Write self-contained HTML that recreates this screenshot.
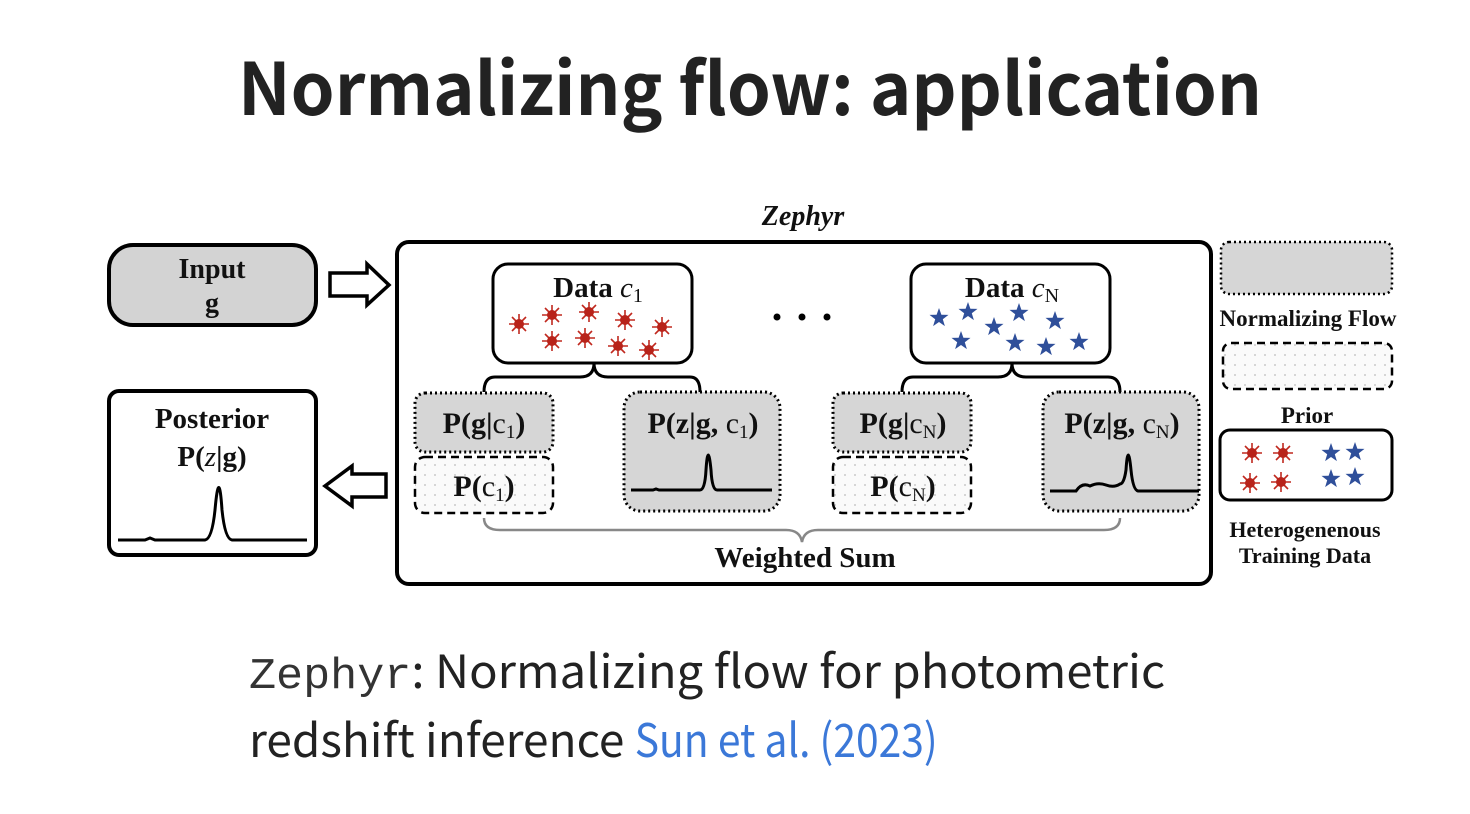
<!DOCTYPE html>
<html><head><meta charset="utf-8"><style>
html,body{margin:0;padding:0;background:#fff;width:1470px;height:814px;overflow:hidden}
svg{display:block}
.t{font-family:"Liberation Serif",serif;font-weight:bold;fill:#111}
.s{font-family:"Noto Sans CJK JP","Liberation Sans",sans-serif;fill:#222}
</style></head><body>
<svg width="1470" height="814" viewBox="0 0 1470 814" xmlns="http://www.w3.org/2000/svg">
<defs>
<pattern id="dots" width="10" height="10" patternUnits="userSpaceOnUse"><rect width="10" height="10" fill="#fafafa"/><circle cx="5" cy="5" r="0.9" fill="#bbb"/></pattern>
<g id="sun"><g stroke="#c0281e" stroke-width="1.6"><line x1="-10" y1="0" x2="10" y2="0"/><line x1="0" y1="-10" x2="0" y2="10"/><line x1="-7" y1="-7" x2="7" y2="7"/><line x1="-7" y1="7" x2="7" y2="-7"/></g><circle r="5" fill="#b8231a"/></g>
<polygon id="star" points="0,-10 2.4,-3.2 9.5,-3.1 3.8,1.2 5.9,8.1 0,4 -5.9,8.1 -3.8,1.2 -9.5,-3.1 -2.4,-3.2" fill="#2f4f9a"/>
</defs>
<text x="750" y="115" text-anchor="middle" class="s" font-size="72" font-weight="bold" textLength="1024" lengthAdjust="spacingAndGlyphs">Normalizing flow: application</text>
<text x="803" y="225" text-anchor="middle" font-family="Liberation Serif,serif" font-style="italic" font-weight="bold" font-size="28" fill="#111">Zephyr</text>

<rect x="109" y="245" width="207" height="80" rx="24" fill="#d3d3d3" stroke="#000" stroke-width="4"/>
<text x="212" y="278" text-anchor="middle" class="t" font-size="28">Input</text>
<text x="212" y="312" text-anchor="middle" class="t" font-size="28">g</text>
<polygon points="330,273 367,273 367,264 389,285 367,305 367,296 330,296" fill="#fff" stroke="#000" stroke-width="3.5"/>

<rect x="109" y="391" width="207" height="164" rx="10" fill="#fff" stroke="#000" stroke-width="4"/>
<text x="212" y="428" text-anchor="middle" class="t" font-size="29">Posterior</text>
<text x="212" y="466" text-anchor="middle" class="t" font-size="29">P(<tspan font-style="italic" font-weight="normal">z</tspan>|g)</text>
<path d="M118,540 L145,540 L150,538 L155,540 L205,540 Q212,539 215,510 Q219,465 222,510 Q225,539 232,540 L307,540" fill="none" stroke="#000" stroke-width="3"/>
<polygon points="386,474 352,474 352,466 325,486 352,506 352,497 386,497" fill="#fff" stroke="#000" stroke-width="3.5"/>

<rect x="397" y="242" width="814" height="342" rx="12" fill="#fff" stroke="#000" stroke-width="4"/>

<rect x="493" y="264" width="199" height="99" rx="15" fill="#fff" stroke="#000" stroke-width="3"/>
<text x="598" y="297" text-anchor="middle" class="t" font-size="29">Data <tspan font-style="italic" font-weight="normal">c</tspan><tspan font-weight="normal" font-size="20" dy="5">1</tspan></text>
<use href="#sun" x="519" y="324"/><use href="#sun" x="552" y="315"/><use href="#sun" x="589" y="312"/><use href="#sun" x="625" y="320"/><use href="#sun" x="662" y="327"/>
<use href="#sun" x="552" y="341"/><use href="#sun" x="585" y="338"/><use href="#sun" x="618" y="346"/><use href="#sun" x="649" y="350"/>
<path d="M594,363 Q594,377 580,377 L495,377 Q484,377 484,392 M594,363 Q594,377 608,377 L690,377 Q700,377 700,392" fill="none" stroke="#000" stroke-width="3"/>

<rect x="415" y="393" width="138" height="59" rx="10" fill="#d6d6d6" stroke="#000" stroke-width="3" stroke-dasharray="2,3"/>
<text x="484" y="433" text-anchor="middle" class="t" font-size="30">P(g|<tspan font-weight="normal">c</tspan><tspan font-weight="normal" font-size="19" dy="5">1</tspan><tspan dy="-5">)</tspan></text>
<rect x="415" y="457" width="138" height="56" rx="10" fill="url(#dots)" stroke="#000" stroke-width="2.5" stroke-dasharray="8,5"/>
<text x="484" y="496" text-anchor="middle" class="t" font-size="30">P(<tspan font-weight="normal">c</tspan><tspan font-weight="normal" font-size="19" dy="5">1</tspan><tspan dy="-5">)</tspan></text>
<rect x="624" y="392" width="156" height="119" rx="16" fill="#d6d6d6" stroke="#000" stroke-width="3" stroke-dasharray="2,3"/>
<text x="703" y="433" text-anchor="middle" class="t" font-size="30">P(z|g, <tspan font-weight="normal">c</tspan><tspan font-weight="normal" font-size="19" dy="5">1</tspan><tspan dy="-5">)</tspan></text>
<path d="M631,490 L653,490 L656,489 L659,490 L700,490 Q705,490 706,470 Q708,440 711,470 Q712,490 717,490 L772,490" fill="none" stroke="#000" stroke-width="3"/>

<circle cx="777" cy="317" r="3.5"/><circle cx="802" cy="317" r="3.5"/><circle cx="827" cy="317" r="3.5"/>

<rect x="911" y="264" width="199" height="99" rx="15" fill="#fff" stroke="#000" stroke-width="3"/>
<text x="1012" y="297" text-anchor="middle" class="t" font-size="29">Data <tspan font-style="italic" font-weight="normal">c</tspan><tspan font-weight="normal" font-size="20" dy="5">N</tspan></text>
<use href="#star" x="939" y="318"/><use href="#star" x="968" y="312"/><use href="#star" x="994" y="327"/><use href="#star" x="1019" y="313"/><use href="#star" x="1055" y="321"/>
<use href="#star" x="961" y="341"/><use href="#star" x="1015" y="343"/><use href="#star" x="1046" y="347"/><use href="#star" x="1079" y="342"/>
<path d="M1012,363 Q1012,377 998,377 L913,377 Q902,377 902,392 M1012,363 Q1012,377 1026,377 L1108,377 Q1120,377 1120,392" fill="none" stroke="#000" stroke-width="3"/>

<rect x="833" y="393" width="138" height="59" rx="10" fill="#d6d6d6" stroke="#000" stroke-width="3" stroke-dasharray="2,3"/>
<text x="903" y="433" text-anchor="middle" class="t" font-size="30">P(g|<tspan font-weight="normal">c</tspan><tspan font-weight="normal" font-size="19" dy="5">N</tspan><tspan dy="-5">)</tspan></text>
<rect x="833" y="457" width="138" height="56" rx="10" fill="url(#dots)" stroke="#000" stroke-width="2.5" stroke-dasharray="8,5"/>
<text x="903" y="496" text-anchor="middle" class="t" font-size="30">P(<tspan font-weight="normal">c</tspan><tspan font-weight="normal" font-size="19" dy="5">N</tspan><tspan dy="-5">)</tspan></text>
<rect x="1043" y="392" width="156" height="119" rx="16" fill="#d6d6d6" stroke="#000" stroke-width="3" stroke-dasharray="2,3"/>
<text x="1122" y="433" text-anchor="middle" class="t" font-size="30">P(z|g, <tspan font-weight="normal">c</tspan><tspan font-weight="normal" font-size="19" dy="5">N</tspan><tspan dy="-5">)</tspan></text>
<path d="M1050,491 L1076,491 Q1082,482 1090,486 Q1098,482 1106,485 Q1114,488 1120,484 Q1124,484 1126,470 Q1128,440 1131,470 Q1133,490 1138,491 L1199,491" fill="none" stroke="#000" stroke-width="3"/>

<path d="M484,518 Q484,530 500,530 L786,530 Q800,530 802,542 Q804,530 818,530 L1104,530 Q1120,530 1120,518" fill="none" stroke="#888" stroke-width="2.5"/>
<text x="805" y="567" text-anchor="middle" class="t" font-size="29">Weighted Sum</text>

<rect x="1221" y="242" width="171" height="52" rx="8" fill="#d6d6d6" stroke="#000" stroke-width="2.5" stroke-dasharray="2,3"/>
<text x="1308" y="326" text-anchor="middle" class="t" font-size="23">Normalizing Flow</text>
<rect x="1223" y="343" width="169" height="46" rx="8" fill="url(#dots)" stroke="#000" stroke-width="2.5" stroke-dasharray="8,5"/>
<text x="1307" y="423" text-anchor="middle" class="t" font-size="23">Prior</text>
<rect x="1220" y="430" width="172" height="70" rx="10" fill="#fff" stroke="#000" stroke-width="3"/>
<use href="#sun" x="1252" y="453"/><use href="#sun" x="1283" y="453"/><use href="#sun" x="1250" y="483"/><use href="#sun" x="1281" y="482"/>
<use href="#star" x="1331" y="453"/><use href="#star" x="1355" y="452"/><use href="#star" x="1331" y="479"/><use href="#star" x="1355" y="477"/>
<text x="1305" y="537" text-anchor="middle" class="t" font-size="22">Heterogenenous</text>
<text x="1305" y="563" text-anchor="middle" class="t" font-size="22">Training Data</text>

<text x="249" y="688" class="s" font-size="46" textLength="916" lengthAdjust="spacingAndGlyphs"><tspan style="font-family:'Liberation Mono','Courier New',monospace;fill:#333" font-size="44">Zephyr</tspan>: Normalizing flow for photometric</text>
<text x="249" y="757" class="s" font-size="46">redshift inference <tspan fill="#3b78d8" textLength="303" lengthAdjust="spacingAndGlyphs">Sun et al. (2023)</tspan></text>
</svg>
</body></html>
